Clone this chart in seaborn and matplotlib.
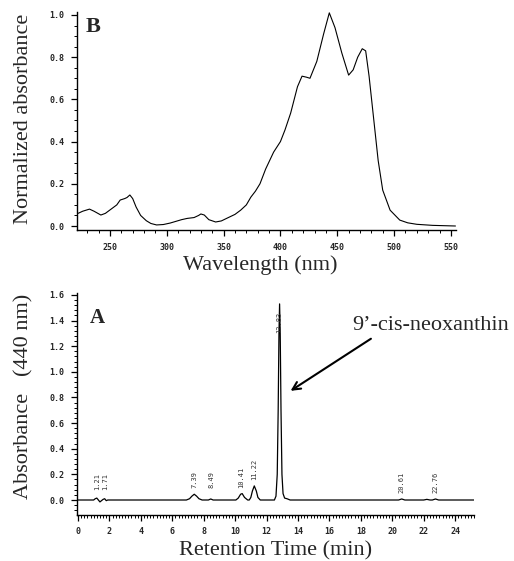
import numpy as np
import pandas as pd
import matplotlib
matplotlib.use("Agg")
import matplotlib.pyplot as plt
from matplotlib.ticker import MultipleLocator
import seaborn as sns

sns.set_theme(style="ticks")
plt.rcParams["font.family"] = ["Liberation Serif", "DejaVu Serif"]

# ---- panel B: absorption spectrum ----
wavelength = [222, 226, 232, 236, 242, 246, 251, 256, 259, 263, 265, 267.5, 270,
              273, 277, 282, 286, 291, 297, 303, 308, 313, 318, 324, 328, 330,
              333, 337, 343, 348, 353, 360, 365, 370, 374, 378, 382, 387, 394,
              400, 404, 409, 415, 419, 423, 426, 432, 438, 443, 448, 454, 460,
              464, 468, 472, 475, 478, 481.5, 486, 490, 496.5, 505, 512, 520,
              534, 554]
absorb_norm = [0.06, 0.07, 0.08, 0.07, 0.052, 0.06, 0.08, 0.10, 0.123, 0.13,
               0.135, 0.147, 0.13, 0.09, 0.05, 0.025, 0.012, 0.005, 0.007,
               0.014, 0.022, 0.03, 0.036, 0.04, 0.05, 0.057, 0.052, 0.03, 0.019,
               0.024, 0.037, 0.055, 0.075, 0.10, 0.137, 0.165, 0.20, 0.27, 0.35,
               0.40, 0.455, 0.535, 0.66, 0.71, 0.705, 0.70, 0.78, 0.91, 1.01,
               0.94, 0.82, 0.715, 0.74, 0.80, 0.84, 0.83, 0.71, 0.535, 0.31,
               0.17, 0.075, 0.028, 0.015, 0.008, 0.003, 0.0]

# ---- panel A: chromatogram at 440 nm ----
ret_time = [0.0, 1.0, 1.1, 1.2, 1.3, 1.4, 1.5, 1.6, 1.7, 1.8, 1.9, 6.9, 7.1,
            7.25, 7.4, 7.55, 7.7, 7.9, 8.3, 8.45, 8.6, 10.05, 10.2, 10.35,
            10.45, 10.6, 10.8, 10.9, 11.0, 11.1, 11.22, 11.35, 11.45, 11.6,
            12.5, 12.6, 12.68, 12.74, 12.79, 12.83, 12.87, 12.92, 12.98, 13.05,
            13.15, 13.3, 13.5, 20.4, 20.6, 20.8, 22.0, 22.2, 22.4, 22.55,
            22.75, 22.95, 25.2]
absorb_440 = [0.0, 0.0, 0.01, 0.015, 0.0, -0.015, -0.005, 0.005, 0.01, -0.005,
              0.0, 0.0, 0.01, 0.03, 0.045, 0.03, 0.01, 0.0, 0.0, 0.008, 0.0,
              0.0, 0.015, 0.045, 0.05, 0.02, 0.0, 0.0, 0.02, 0.07, 0.11, 0.07,
              0.02, 0.0, 0.0, 0.03, 0.2, 0.7, 1.3, 1.53, 1.3, 0.7, 0.2, 0.05,
              0.015, 0.01, 0.0, 0.0, 0.008, 0.0, 0.0, 0.005, 0.0, 0.0, 0.008,
              0.0, 0.0]

peak_times = [1.21, 1.71, 7.39, 8.49, 10.41, 11.22, 12.83, 20.61, 22.76]
peak_labels = ["1.21", "1.71", "7.39", "8.49", "10.41", "11.22", "12.83", "20.61", "22.76"]
label_base = [0.075, 0.075, 0.095, 0.09, 0.095, 0.156, 1.30, 0.055, 0.055]

spec = pd.DataFrame({"wl": wavelength, "a": absorb_norm})
chrom = pd.DataFrame({"t": ret_time, "a": absorb_440})

fig = plt.figure(figsize=(5.14, 5.61), dpi=100)
axB = fig.add_axes([0.1498, 0.590, 0.7374, 0.3886])
axA = fig.add_axes([0.1498, 0.082, 0.7724, 0.3957])

def style_axis(ax):
    sns.despine(ax=ax)
    for s in ("left", "bottom"):
        ax.spines[s].set_linewidth(1.0)
        ax.spines[s].set_color("black")
    ax.tick_params(which="major", length=4, width=0.9, color="black", pad=5)
    ax.tick_params(which="minor", length=2, width=0.7, color="black")
    for lab in ax.get_xticklabels() + ax.get_yticklabels():
        lab.set_fontfamily("DejaVu Sans Mono")
        lab.set_fontsize(6)
        lab.set_fontweight("bold")

# panel B
sns.lineplot(data=spec, x="wl", y="a", ax=axB, color="black", linewidth=0.8)
axB.set_xlim(221, 554.5)
axB.set_ylim(-0.019, 1.014)
axB.xaxis.set_minor_locator(MultipleLocator(10))
axB.yaxis.set_minor_locator(MultipleLocator(0.05))
axB.set_xticks([250, 300, 350, 400, 450, 500, 550])
axB.set_xticklabels(["250", "300", "350", "400", "450", "500", "550"])
axB.set_yticks([0.0, 0.2, 0.4, 0.6, 0.8, 1.0])
axB.set_yticklabels(["0.0", "0.2", "0.4", "0.6", "0.8", "1.0"])
style_axis(axB)
axB.set_xlabel("Wavelength (nm)", fontsize=16)
axB.set_ylabel("Normalized absorbance", fontsize=16)
axB.xaxis.set_label_coords(0.483, -0.115)
axB.yaxis.set_label_coords(-0.115, 0.51)
axB.text(0.024, 0.908, "B", transform=axB.transAxes, fontsize=16,
         fontweight="bold", va="baseline", ha="left")

# panel A
sns.lineplot(data=chrom, x="t", y="a", ax=axA, color="black", linewidth=0.9)
axA.set_xlim(-0.06, 25.2)
axA.set_ylim(-0.117, 1.615)
axA.set_xticks(list(range(0, 26, 2)))
axA.set_xticklabels([str(v) for v in range(0, 26, 2)])
axA.xaxis.set_minor_locator(MultipleLocator(0.2))
axA.set_yticks([0.0, 0.2, 0.4, 0.6, 0.8, 1.0, 1.2, 1.4, 1.6])
axA.set_yticklabels(["0.0", "0.2", "0.4", "0.6", "0.8", "1.0", "1.2", "1.4", "1.6"])
axA.yaxis.set_minor_locator(MultipleLocator(0.04))
style_axis(axA)
axA.set_xlabel("Retention Time (min)", fontsize=16)
axA.set_ylabel("Absorbance   (440 nm)", fontsize=16)
axA.xaxis.set_label_coords(0.5, -0.12)
axA.yaxis.set_label_coords(-0.11, 0.536)
axA.text(0.033, 0.865, "A", transform=axA.transAxes, fontsize=15,
         fontweight="bold", va="baseline", ha="left")

# retention-time labels above the peaks
for t, lab, yb in zip(peak_times, peak_labels, label_base):
    axA.text(t, yb, lab, rotation=90, ha="center", va="bottom",
             family="DejaVu Sans Mono", fontsize=5, color="#333333")

axA.text(17.45, 1.33, "9\u2019-cis-neoxanthin", fontsize=16, ha="left",
         va="baseline", clip_on=False)
axA.annotate("", xy=(13.38, 0.84), xytext=(18.79, 1.27),
             arrowprops=dict(arrowstyle="->", lw=1.5, color="black",
                             mutation_scale=14))

fig.savefig("out.png", dpi=100)
